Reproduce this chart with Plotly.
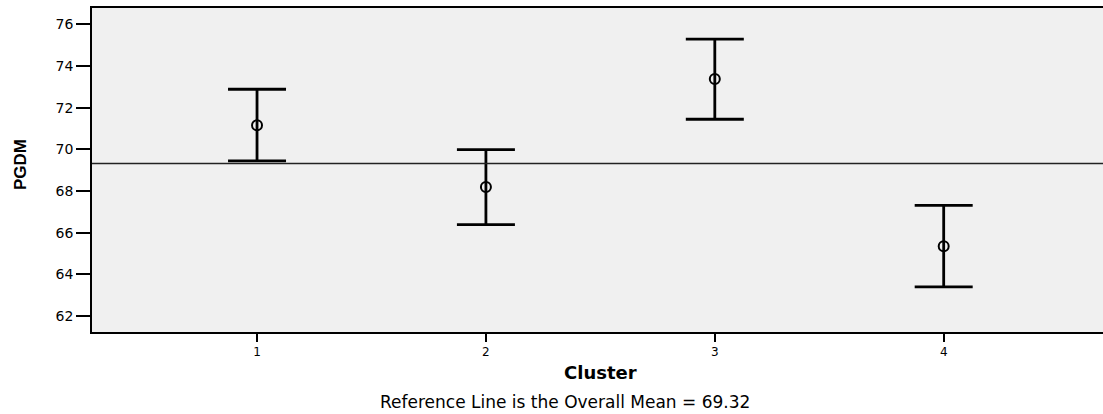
import plotly.graph_objects as go

clusters = [1, 2, 3, 4]
means = [71.15, 68.19, 73.37, 65.34]
upper = [72.88, 69.98, 75.29, 67.31]
lower = [69.44, 66.38, 71.44, 63.40]
overall_mean = 69.32
y_ticks = [62, 64, 66, 68, 70, 72, 74, 76]

err_plus = [u - m for u, m in zip(upper, means)]
err_minus = [m - l for m, l in zip(means, lower)]

WIDE = "DejaVu Sans, Verdana, sans-serif"

fig = go.Figure()
fig.add_trace(go.Scatter(
    x=clusters, y=means, mode="markers",
    marker=dict(symbol="circle-open", size=10, color="black", line=dict(width=2)),
    error_y=dict(type="data", symmetric=False, array=err_plus, arrayminus=err_minus,
                 color="black", thickness=2.8, width=29),
    showlegend=False, hoverinfo="skip",
))

fig.add_shape(type="line", xref="paper", x0=0, x1=1, yref="y", y0=overall_mean, y1=overall_mean,
              line=dict(color="#222222", width=1.5), layer="above")

fig.update_layout(
    width=1103, height=414,
    margin=dict(l=92, r=0, t=8, b=82),
    paper_bgcolor="white", plot_bgcolor="#f0f0f0",
    font=dict(family=WIDE, color="black"),
    xaxis=dict(range=[0.279, 4.696], tickvals=clusters, ticktext=[str(c) for c in clusters],
               ticks="outside", ticklen=8, tickwidth=2, tickcolor="black",
               showline=True, mirror=True, linecolor="black", linewidth=1.5,
               showgrid=False, zeroline=False, tickfont=dict(size=12, family=WIDE)),
    yaxis=dict(range=[61.23, 76.78], tickvals=y_ticks, ticktext=[str(t) for t in y_ticks],
               ticks="outside", ticklen=14, tickwidth=1.5, tickcolor="black",
               showline=True, mirror=False, linecolor="black", linewidth=1.5,
               showgrid=False, zeroline=False, tickfont=dict(size=14, family=WIDE)),
    annotations=[
        dict(text="<b>Cluster</b>", xref="paper", yref="paper", x=(600 - 92) / 1011, y=(332 - 372) / 324,
             showarrow=False, font=dict(size=18, family=WIDE), xanchor="center", yanchor="middle"),
        dict(text="Reference Line is the Overall Mean = 69.32", xref="paper", yref="paper",
             x=(565 - 92) / 1011, y=(332 - 402) / 324,
             showarrow=False, font=dict(size=17, family=WIDE), xanchor="center", yanchor="middle"),
        dict(text="<b>PGDM</b>", xref="paper", yref="paper", x=(20 - 92) / 1011, y=(332 - 165) / 324,
             showarrow=False, textangle=-90,
             font=dict(size=17, family="Liberation Sans Narrow, Arial Narrow, sans-serif"),
             xanchor="center", yanchor="middle"),
    ],
)

fig.write_html("out.html")
